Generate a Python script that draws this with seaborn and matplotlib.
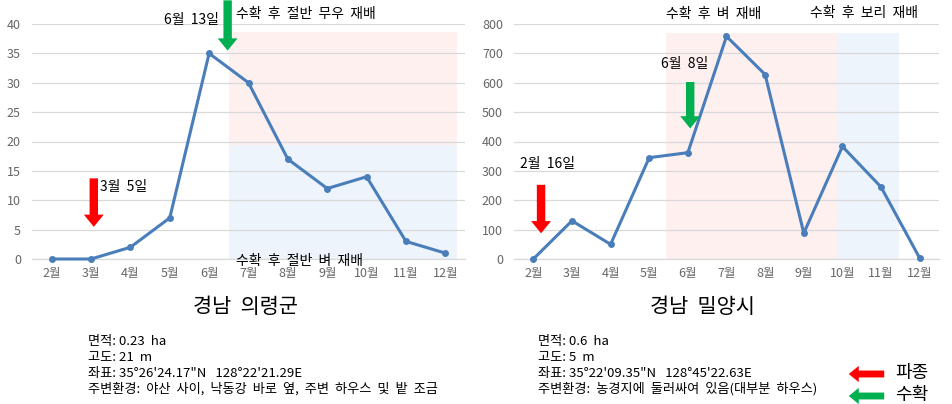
import matplotlib
matplotlib.use("Agg")
import matplotlib.pyplot as plt
import seaborn as sns
import pandas as pd
from matplotlib.patches import FancyArrowPatch

sns.set_theme(style="white")
plt.rcParams['font.family'] = ['Noto Sans CJK KR', 'DejaVu Sans']
plt.rcParams['axes.unicode_minus'] = False

months = ["2월", "3월", "4월", "5월", "6월", "7월", "8월", "9월", "10월", "11월", "12월"]
uiryeong = [0, 0, 2, 7, 35, 30, 17, 12, 14, 3, 1]
miryang = [0, 130, 50, 345, 362, 758, 628, 88, 383, 245, 3]
left_title = "경남  의령군"
right_title = "경남  밀양시"
left_info = ["면적: 0.23  ha", "고도: 21  m", "좌표: 35°26'24.17\"N   128°22'21.29E",
             "주변환경:  야산  사이,  낙동강  바로  옆,  주변  하우스  및  밭  조금"]
right_info = ["면적: 0.6  ha", "고도: 5  m", "좌표: 35°22'09.35\"N   128°45'22.63E",
              "주변환경:  농경지에  둘러싸여  있음(대부분  하우스)"]

LINE = "#4A7EBB"
PINK = "#FDF0EF"
BLUE = "#EEF4FB"
RED = "#FF0000"
GREEN = "#00B050"
GRID = "#D9D9D9"
TICK = "#666666"

fig = plt.figure(figsize=(9.53, 4.04), dpi=100)
H = 404
W = 953
ax1 = fig.add_axes([32 / W, 1 - 259 / H, 433 / W, 235 / H])
ax2 = fig.add_axes([514 / W, 1 - 259 / H, 425 / W, 235 / H])

df1 = pd.DataFrame({"month": months, "value": uiryeong})
df2 = pd.DataFrame({"month": months, "value": miryang})


def style(ax, ymax, step):
    ax.set_xlim(-0.5, 10.5)
    ax.set_ylim(0, ymax)
    ax.set_yticks(range(0, ymax + 1, step))
    ax.grid(axis='y', color=GRID, linewidth=0.9)
    ax.set_axisbelow(True)
    for s in ["top", "right", "left"]:
        ax.spines[s].set_visible(False)
    ax.spines["bottom"].set_color(GRID)
    ax.spines["bottom"].set_linewidth(0.9)
    ax.tick_params(axis='both', colors=TICK, labelsize=9, length=0)
    ax.tick_params(axis='y', pad=8)
    ax.tick_params(axis='x', pad=6)
    ax.set_xlabel("")
    ax.set_ylabel("")
    ax.set_facecolor("none")


def arrow(ax, x, y0, y1, color):
    p = FancyArrowPatch((x, y0), (x, y1), arrowstyle="simple,head_length=0.8,head_width=1.3,tail_width=0.55",
                        mutation_scale=11, color=color, clip_on=False, zorder=5, lw=0)
    ax.add_patch(p)


ANN = 10

# left chart
ax1.axvspan(4.5, 10.3, ymin=19.4 / 40, ymax=38.6 / 40, color=PINK, lw=0, zorder=0)
ax1.axvspan(4.5, 10.3, ymin=0, ymax=19.4 / 40, color=BLUE, lw=0, zorder=0)
sns.lineplot(data=df1, x="month", y="value", ax=ax1, color=LINE, lw=2.2, marker="o",
             markersize=5, markeredgewidth=0, sort=False, clip_on=False, zorder=3)
style(ax1, 40, 5)
arrow(ax1, 1.07, 14.2, 5.0, RED)
ax1.text(1.22, 12.3, "3월  5일", fontsize=ANN, color="black", ha="left", va="center")
arrow(ax1, 4.47, 44.5, 35.0, GREEN)
ax1.text(4.25, 40.6, "6월  13일", fontsize=ANN, color="black", ha="right", va="center")
ax1.text(4.68, 41.7, "수확  후  절반  무우  재배", fontsize=ANN, color="black", ha="left", va="center")
ax1.text(4.68, -0.4, "수확  후  절반  벼  재배", fontsize=ANN, color="black", ha="left", va="center")

# right chart
ax2.axvspan(3.44, 7.87, ymin=0, ymax=769 / 800, color=PINK, lw=0, zorder=0)
ax2.axvspan(7.87, 9.47, ymin=0, ymax=769 / 800, color=BLUE, lw=0, zorder=0)
sns.lineplot(data=df2, x="month", y="value", ax=ax2, color=LINE, lw=2.2, marker="o",
             markersize=5, markeredgewidth=0, sort=False, clip_on=False, zorder=3)
style(ax2, 800, 100)
arrow(ax2, 0.2, 262, 78, RED)
ax2.text(0.36, 322, "2월  16일", fontsize=ANN, color="black", ha="center", va="center")
arrow(ax2, 4.06, 612, 435, GREEN)
ax2.text(3.91, 664, "6월  8일", fontsize=ANN, color="black", ha="center", va="center")
ax2.text(4.66, 833, "수확  후  벼  재배", fontsize=ANN, color="black", ha="center", va="center")
ax2.text(8.55, 837, "수확  후  보리  재배", fontsize=ANN, color="black", ha="center", va="center")

# titles
fig.text(245 / W, 1 - 307 / H, left_title, fontsize=15, ha="center", va="center", color="black")
fig.text(702 / W, 1 - 307 / H, right_title, fontsize=15, ha="center", va="center", color="black")

# info
for i, line in enumerate(left_info):
    fig.text(88 / W, 1 - (342 + i * 15.7) / H, line, fontsize=9.5, ha="left", va="center", color="black")
for i, line in enumerate(right_info):
    fig.text(538 / W, 1 - (342 + i * 15.7) / H, line, fontsize=9.5, ha="left", va="center", color="black")

# legend arrows
for (yy, col, lab) in [(374, RED, "파종"), (396, GREEN, "수확")]:
    p = FancyArrowPatch((887 / W, 1 - yy / H), (846 / W, 1 - yy / H), transform=fig.transFigure,
                        arrowstyle="simple,head_length=0.8,head_width=1.3,tail_width=0.55",
                        mutation_scale=9, color=col, lw=0)
    fig.add_artist(p)
    fig.text(895 / W, 1 - (yy - 1) / H, lab, fontsize=13, ha="left", va="center", color="black")

fig.savefig("out.png", dpi=100)
